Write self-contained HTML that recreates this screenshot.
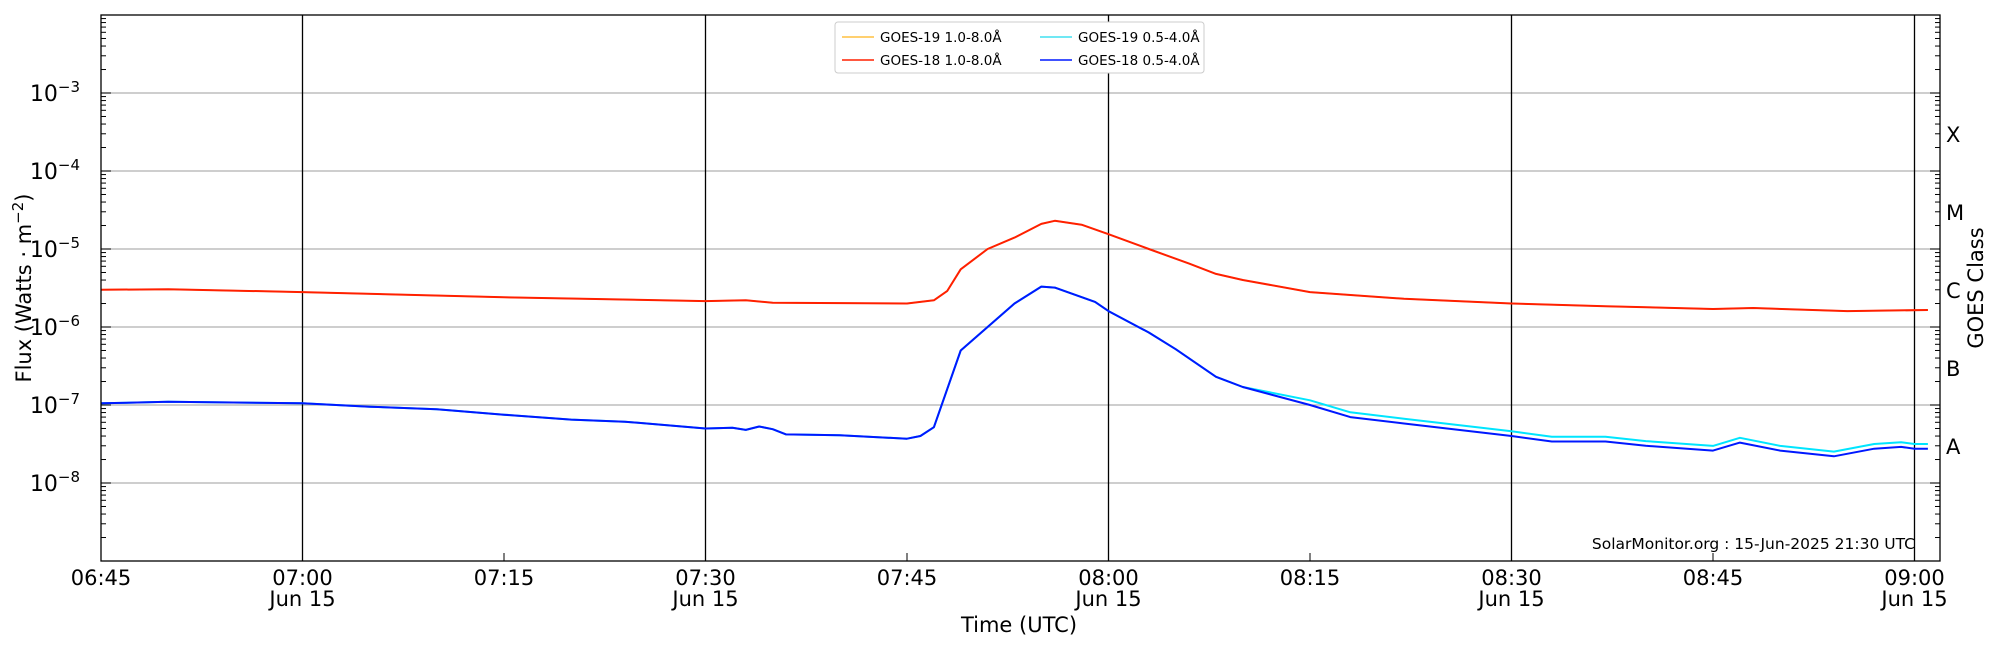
<!DOCTYPE html>
<html><head><meta charset="utf-8"><style>
body{margin:0;background:#fff;}
svg{display:block;font-family:"DejaVu Sans","Liberation Sans",sans-serif;}
</style></head><body>
<svg id="s" width="2000" height="650" xmlns="http://www.w3.org/2000/svg"></svg>
<script>
const L=101,R=1940,T=15,B=561;
const X=m=>L+m*201.5/15;
const Y=v=>B-(Math.log10(v)+9)*78;
const hm=s=>{const[a,b]=s.split(':').map(Number);return (a*60+b)-(6*60+45);};
let o='';
for(let e=-8;e<=-3;e++){o+=`<line x1="${L}" x2="${R}" y1="${Y(Math.pow(10,e))}" y2="${Y(Math.pow(10,e))}" stroke="#b0b0b0" stroke-width="1.2"/>`;}
['07:00','07:30','08:00','08:30','09:00'].forEach(t=>{const x=X(hm(t));o+=`<line x1="${x}" x2="${x}" y1="${T}" y2="${B}" stroke="#000" stroke-width="1.3"/>`;});
for(let e=-9;e<-2;e++){for(let k=1;k<10;k++){const y=Y(k*Math.pow(10,e));if(y<T||y>B)continue;const len=k==1?10:5;
o+=`<line x1="${L}" x2="${L+len}" y1="${y}" y2="${y}" stroke="#000"/>`;o+=`<line x1="${R}" x2="${R-len}" y1="${y}" y2="${y}" stroke="#000"/>`;}}
for(let e=-8;e<=-3;e++){const y=Y(Math.pow(10,e));o+=`<text x="80" y="${y+8}" font-size="22" text-anchor="end">10<tspan dy="-9" font-size="15">−${-e}</tspan></text>`;}
[['X',-3.5],['M',-4.5],['C',-5.5],['B',-6.5],['A',-7.5]].forEach(([c,e])=>{o+=`<text x="1946" y="${Y(Math.pow(10,e))+10}" font-size="21">${c}</text>`;});
['06:45','07:00','07:15','07:30','07:45','08:00','08:15','08:30','08:45','09:00'].forEach(t=>{const x=X(hm(t));
o+=`<line x1="${x}" x2="${x}" y1="${B}" y2="${B-8}" stroke="#000"/>`;
o+=`<text x="${x}" y="585" font-size="21" text-anchor="middle">${t}</text>`;
if(t.endsWith(':00')||t.endsWith(':30'))o+=`<text x="${x}" y="606" font-size="21" text-anchor="middle">Jun 15</text>`;});
o+=`<text x="1019" y="632" font-size="21" text-anchor="middle">Time (UTC)</text>`;
o+=`<text transform="translate(31,288) rotate(-90)" font-size="21" text-anchor="middle">Flux (Watts · m<tspan dy="-8" font-size="15">−2</tspan><tspan dy="8">)</tspan></text>`;
o+=`<text transform="translate(1983,288) rotate(-90)" font-size="21" text-anchor="middle">GOES Class</text>`;
o+=`<text x="1915" y="549" font-size="15.5" text-anchor="end">SolarMonitor.org : 15-Jun-2025 21:30 UTC</text>`;
function path(d,c,w){return `<path d="${d.map((p,i)=>(i?'L':'M')+X(hm(p[0])).toFixed(1)+' '+Y(p[1]).toFixed(1)).join(' ')}" fill="none" stroke="${c}" stroke-width="${w}" stroke-linejoin="round"/>`;}
const red=[['06:45',3e-6],['06:50',3.05e-6],['07:00',2.8e-6],['07:15',2.4e-6],['07:30',2.15e-6],['07:33',2.2e-6],['07:35',2.05e-6],['07:45',2.0e-6],['07:47',2.2e-6],['07:48',2.9e-6],['07:49',5.5e-6],['07:51',1e-5],['07:53',1.4e-5],['07:55',2.1e-5],['07:56',2.3e-5],['07:58',2.05e-5],['08:00',1.55e-5],['08:03',1e-5],['08:06',6.5e-6],['08:08',4.8e-6],['08:10',4e-6],['08:15',2.8e-6],['08:22',2.3e-6],['08:30',2e-6],['08:37',1.85e-6],['08:45',1.7e-6],['08:48',1.75e-6],['08:55',1.6e-6],['09:01',1.65e-6]];
const blue=[['06:45',1.05e-7],['06:50',1.1e-7],['07:00',1.05e-7],['07:05',9.5e-8],['07:10',8.8e-8],['07:15',7.5e-8],['07:20',6.5e-8],['07:24',6.1e-8],['07:30',5e-8],['07:32',5.1e-8],['07:33',4.8e-8],['07:34',5.3e-8],['07:35',4.9e-8],['07:36',4.2e-8],['07:40',4.1e-8],['07:45',3.7e-8],['07:46',4e-8],['07:47',5.2e-8],['07:49',5e-7],['07:51',1e-6],['07:53',2e-6],['07:55',3.3e-6],['07:56',3.2e-6],['07:59',2.1e-6],['08:00',1.6e-6],['08:03',8.5e-7],['08:05',5.2e-7],['08:08',2.3e-7],['08:10',1.7e-7],['08:15',1e-7],['08:18',7e-8],['08:22',5.8e-8],['08:30',4e-8],['08:33',3.4e-8],['08:37',3.4e-8],['08:40',3e-8],['08:45',2.6e-8],['08:47',3.3e-8],['08:50',2.6e-8],['08:54',2.2e-8],['08:57',2.75e-8],['08:59',2.9e-8],['09:00',2.75e-8],['09:01',2.75e-8]];
const cyan=blue.map(([t,v])=>[t,hm(t)>hm('08:14')?v*1.15:v]);
o+=path(red,'#ffa500',1.5)+path(red,'#ff2000',2)+path(cyan,'#00e5ff',2)+path(blue,'#0018ff',2);
o+=`<rect x="835" y="22" width="369" height="51" fill="#fff" stroke="#ccc" rx="3"/>`;
[[842,37,'#ffc040','GOES-19 1.0-8.0Å'],[842,60,'#ff2000','GOES-18 1.0-8.0Å'],[1040,37,'#40e0f0','GOES-19 0.5-4.0Å'],[1040,60,'#0018ff','GOES-18 0.5-4.0Å']].forEach(([x,y,c,t])=>{
o+=`<line x1="${x}" x2="${x+32}" y1="${y}" y2="${y}" stroke="${c}" stroke-width="1.5"/><text x="${x+38}" y="${y+5}" font-size="13.5">${t}</text>`;});
o+=`<rect x="${L}" y="${T}" width="${R-L}" height="${B-T}" fill="none" stroke="#000" stroke-width="1.3"/>`;
document.getElementById('s').innerHTML=o;
</script>
</body></html>
